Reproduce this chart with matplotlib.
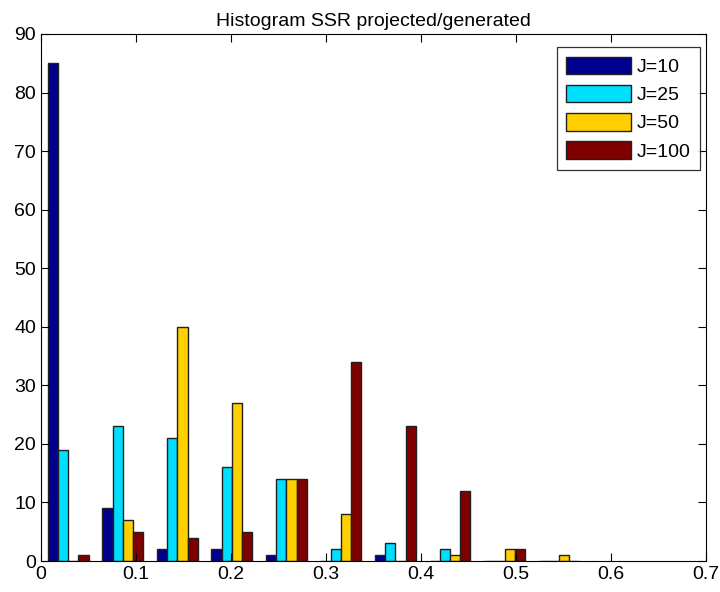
import numpy as np
import matplotlib
matplotlib.use("Agg")
import matplotlib.pyplot as plt

# histogram counts, 10 bins
bin_centers = [0.0287, 0.0861, 0.1435, 0.2009, 0.2583, 0.3157, 0.3731, 0.4305, 0.4879, 0.5453]
j10 = [85, 9, 2, 2, 1, 0, 1, 0, 0, 0]
j25 = [19, 23, 21, 16, 14, 2, 3, 2, 0, 0]
j50 = [0, 7, 40, 27, 14, 8, 0, 1, 2, 1]
j100 = [1, 5, 4, 5, 14, 34, 23, 12, 2, 0]
labels = ["J=10", "J=25", "J=50", "J=100"]
colors = ["#00008F", "#00DFFF", "#FFCF00", "#800000"]

plt.rcParams['font.family'] = ['Liberation Sans', 'DejaVu Sans']

fig = plt.figure(figsize=(7.2, 5.92), dpi=100)
ax = fig.add_axes([41/720, 1-561/592, 665/720, 527/592])

x = np.array(bin_centers)
binw = 0.0574
w = binw * 0.75 / 4
series = [j10, j25, j50, j100]
for i, (s, c, lab) in enumerate(zip(series, colors, labels)):
    ax.bar(x + (i - 1.5) * w, s, width=w, color=c, edgecolor="#202020",
           linewidth=1.0, label=lab)

ax.set_xlim(0, 0.7)
ax.set_ylim(0, 90)
ax.set_xticks(np.arange(0, 0.71, 0.1))
ax.set_xticklabels(["0", "0.1", "0.2", "0.3", "0.4", "0.5", "0.6", "0.7"])
ax.set_yticks(np.arange(0, 91, 10))
ax.tick_params(direction="in", top=True, right=True, length=6, labelsize=14)
ax.set_title("Histogram SSR projected/generated", fontsize=14, pad=6)

leg = ax.legend(loc="upper right", bbox_to_anchor=(0.991, 0.975), fontsize=14,
                fancybox=False, edgecolor="black",
                handlelength=3.3, handleheight=1.0, borderaxespad=0,
                labelspacing=0.45, handletextpad=0.3, borderpad=0.5)
leg.get_frame().set_linewidth(0.9)

fig.savefig("out.png", dpi=100)
